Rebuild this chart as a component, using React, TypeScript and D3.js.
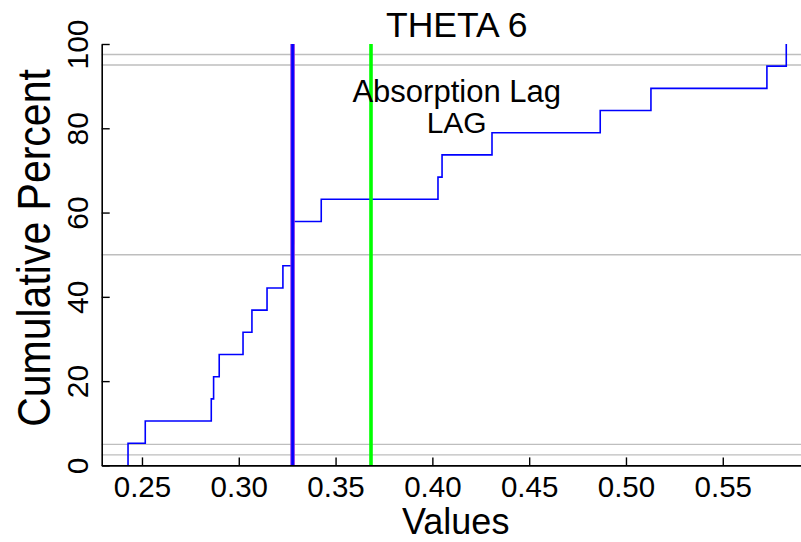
import React, { useRef, useEffect } from 'react';
import * as d3 from 'd3';

// sorted sample values
const thetaValues = [
  0.2428, 0.2517, 0.2858, 0.287, 0.2899, 0.3022, 0.3068, 0.3146, 0.3228, 0.3275,
  0.3282, 0.3426, 0.4029, 0.405, 0.4308, 0.4867, 0.5129, 0.5728, 0.5828,
];
const cumPercent = [
  5.26, 10.53, 15.79, 21.05, 26.32, 31.58, 36.84, 42.11, 47.37, 52.63, 57.89, 63.16,
  68.42, 73.68, 78.95, 84.21, 89.47, 94.74, 100,
];
const refLines = [
  { value: 0.3278, color: 'blue' },
  { value: 0.3683, color: 'green' },
];
const refPercents = [2.5, 5, 50, 95, 97.5];
const xTicks = [0.25, 0.3, 0.35, 0.4, 0.45, 0.5, 0.55];
const yTicks = [0, 20, 40, 60, 80, 100];
const titleText = 'THETA 6';
const noteLines = ['Absorption Lag', 'LAG'];

const FONT = '"Liberation Sans", Arial, Helvetica, sans-serif';

const App: React.FC = () => {
  const chartRef = useRef<SVGSVGElement | null>(null);

  useEffect(() => {
    if (!chartRef.current) return;
    const width = 801;
    const height = 542;

    const svg = d3.select(chartRef.current);
    svg.selectAll('*').remove();
    svg.attr('width', width).attr('height', height);

    const xScale = d3.scaleLinear().domain([0.2292, 0.5964]).range([101.7, 812.6]);
    const yScale = d3.scaleLinear().domain([0, 100]).range([465.4, 44]);

    // percentile guide lines
    svg
      .selectAll('line.guide')
      .data(refPercents)
      .enter()
      .append('line')
      .attr('class', 'guide')
      .attr('x1', xScale.range()[0])
      .attr('x2', xScale.range()[1])
      .attr('y1', (d) => yScale(d))
      .attr('y2', (d) => yScale(d))
      .attr('stroke', '#bebebe')
      .attr('stroke-width', 1.4);

    // step line (empirical cdf)
    const pts: [number, number][] = [[thetaValues[0], 0]];
    thetaValues.forEach((v, i) => {
      if (i > 0) pts.push([v, cumPercent[i - 1]]);
      pts.push([v, cumPercent[i]]);
    });
    const line = d3
      .line<[number, number]>()
      .x((d) => xScale(d[0]))
      .y((d) => yScale(d[1]));
    svg
      .append('path')
      .attr('d', line(pts))
      .attr('fill', 'none')
      .attr('stroke', '#0000ff')
      .attr('stroke-width', 1.6);

    // vertical reference lines
    refLines.forEach((r) => {
      const x = xScale(r.value);
      if (r.color === 'blue') {
        svg
          .append('line')
          .attr('x1', x).attr('x2', x)
          .attr('y1', yScale(100)).attr('y2', yScale(0))
          .attr('stroke', '#8a2be2')
          .attr('stroke-width', 4.5);
        svg
          .append('line')
          .attr('x1', x).attr('x2', x)
          .attr('y1', yScale(100)).attr('y2', yScale(0))
          .attr('stroke', '#0000ff')
          .attr('stroke-width', 2.6);
      } else {
        svg
          .append('line')
          .attr('x1', x).attr('x2', x)
          .attr('y1', yScale(100)).attr('y2', yScale(0))
          .attr('stroke', '#00ff00')
          .attr('stroke-width', 3.6);
      }
    });

    // x axis
    const xAxis = d3
      .axisBottom(xScale)
      .tickValues(xTicks)
      .tickSizeInner(-8)
      .tickSizeOuter(0)
      .tickFormat(d3.format('.2f'));
    const gx = svg
      .append('g')
      .attr('transform', `translate(0, ${yScale(0)})`)
      .call(xAxis);
    gx.select('.domain').attr('stroke', '#000').attr('stroke-width', 1.6);
    gx.selectAll('.tick line').attr('stroke', '#000').attr('stroke-width', 1.4);
    gx.selectAll('.tick text')
      .attr('y', 31.3)
      .attr('dy', null)
      .attr('fill', '#000')
      .style('font-family', FONT)
      .style('font-size', '29.5px');

    // y axis
    const yAxis = d3.axisLeft(yScale).tickValues(yTicks).tickSizeInner(-8).tickSizeOuter(0);
    const gy = svg
      .append('g')
      .attr('transform', `translate(${xScale.range()[0]}, 0)`)
      .call(yAxis);
    gy.select('.domain').attr('stroke', '#000').attr('stroke-width', 1.6);
    gy.selectAll('.tick line').attr('stroke', '#000').attr('stroke-width', 1.4);
    gy.selectAll('.tick text')
      .attr('x', null)
      .attr('dy', null)
      .attr('text-anchor', 'middle')
      .attr('transform', 'translate(-13.4, 0) rotate(-90)')
      .attr('fill', '#000')
      .style('font-family', FONT)
      .style('font-size', '30px');

    // title
    svg
      .append('text')
      .attr('x', 456.7)
      .attr('y', 37)
      .attr('text-anchor', 'middle')
      .style('font-family', FONT)
      .style('font-size', '35.5px')
      .text(titleText);

    // annotation
    svg
      .append('text')
      .attr('x', 456.7)
      .attr('y', 101.7)
      .attr('text-anchor', 'middle')
      .style('font-family', FONT)
      .style('font-size', '31px')
      .text(noteLines[0]);
    svg
      .append('text')
      .attr('x', 456.7)
      .attr('y', 133.3)
      .attr('text-anchor', 'middle')
      .style('font-family', FONT)
      .style('font-size', '30px')
      .text(noteLines[1]);

    // axis titles
    svg
      .append('text')
      .attr('x', 455.7)
      .attr('y', 534)
      .attr('text-anchor', 'middle')
      .style('font-family', FONT)
      .style('font-size', '36px')
      .text('Values');
    svg
      .append('text')
      .attr('transform', 'translate(50, 248) scale(1.12, 1) rotate(-90)')
      .attr('text-anchor', 'middle')
      .style('font-family', FONT)
      .style('font-size', '41px')
      .text('Cumulative Percent');
  }, []);

  return (
    <div style={{ position: 'absolute', left: 0, top: 0, width: 801, height: 542, overflow: 'hidden', background: '#fff' }}>
      <svg ref={chartRef} style={{ display: 'block' }}></svg>
    </div>
  );
};

export default App;
